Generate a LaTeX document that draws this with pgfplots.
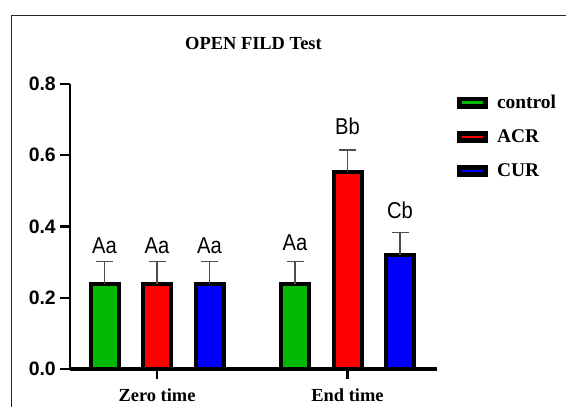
\documentclass[border=0pt]{standalone}
\usepackage{fontspec}
\setmainfont{Liberation Serif}
\newfontfamily\arialfont{Liberation Sans}
\newfontfamily\lblfont{Liberation Sans}[FakeStretch=0.88]
\usepackage{pgfplots}
\usepackage{pgfplotstable}
\pgfplotsset{compat=1.18}
\definecolor{cgreen}{RGB}{0,185,0}
\definecolor{cred}{RGB}{255,0,0}
\definecolor{cblue}{RGB}{0,0,255}

\pgfplotstableread{
x y err off lab
0 0.24 0.062 30.4 Aa
1 0.24 0.062 33.3 Aa
}\ctrl
\pgfplotstableread{
x y err off lab
0 0.24 0.062 30.4 Aa
1 0.553 0.062 37.0 Bb
}\acr
\pgfplotstableread{
x y err off lab
0 0.24 0.062 30.4 Aa
1 0.321 0.062 35.7 Cb
}\cur

\begin{document}
\begin{tikzpicture}
\begin{axis}[
  at={(70bp,38bp)}, anchor=south west,
  scale only axis, width=367bp, height=285bp,
  clip=false,
  ybar=24.5bp, bar width=28bp,
  legend image code/.code={\fill[black] (0bp,-4bp) rectangle (27bp,4bp); \fill[#1,draw=none] (3bp,-1.1bp) rectangle (24bp,1.1bp);},
  xmin=-0.4567, xmax=1.4698,
  ymin=0, ymax=0.8,
  axis lines*=left,
  x axis line style={line width=3.5bp},
  y axis line style={line width=2.2bp},
  tick align=outside,
  major tick length=10bp,
  tick style={line width=2.2bp, black},
  xtick={0,1}, xticklabels={Zero time, End time},
  ytick={0,0.2,0.4,0.6,0.8}, yticklabels={0.0,0.2,0.4,0.6,0.8},
  xticklabel style={font=\bfseries\fontsize{18.5}{20}\selectfont, inner sep=0pt, anchor=base, yshift=-22bp},
  yticklabel style={font=\arialfont\bfseries\fontsize{19.5}{20}\selectfont, inner sep=0pt, xshift=-4bp},
  /pgf/number format/assume math mode=true,
  title={OPEN FILD Test},
  title style={at={(0.5,1)}, anchor=base, yshift=29bp, inner sep=0pt, font=\bfseries\fontsize{18.5}{20}\selectfont},
  legend style={at={(1.046,0.969)}, anchor=north west, draw=none, fill=none,
    font=\bfseries\fontsize{19.5}{20}\selectfont, row sep=19.7bp, column sep=9bp,
    nodes={inner sep=0pt}},
  legend cell align=left,
  nodes near coords,
  point meta=explicit symbolic,
  visualization depends on={\thisrow{off} \as \myoff},
  every node near coord/.append style={anchor=base, inner sep=0pt, yshift=\myoff bp, text=black, font=\lblfont\fontsize{23}{24}\selectfont},
  error bars/y dir=plus, error bars/y explicit,
  error bars/error bar style={line width=1.2bp, black!70},
  error bars/error mark options={line width=1.2bp, mark size=8.5bp, black!70, rotate=90},
]
\addplot[fill=cgreen, draw=black, line width=4bp] table[x=x, y=y, y error=err, meta=lab] {\ctrl};
\addplot[fill=cred, draw=black, line width=4bp] table[x=x, y=y, y error=err, meta=lab] {\acr};
\addplot[fill=cblue, draw=black, line width=4bp] table[x=x, y=y, y error=err, meta=lab] {\cur};
\legend{control, ACR, CUR}
\end{axis}
\draw[line width=1.3bp, black!85] (11.5bp,-5bp) -- (11.5bp,391.5bp) -- (580bp,391.5bp);
\pgfresetboundingbox
\useasboundingbox (0,0) rectangle (566bp,407bp);
\end{tikzpicture}
\end{document}
